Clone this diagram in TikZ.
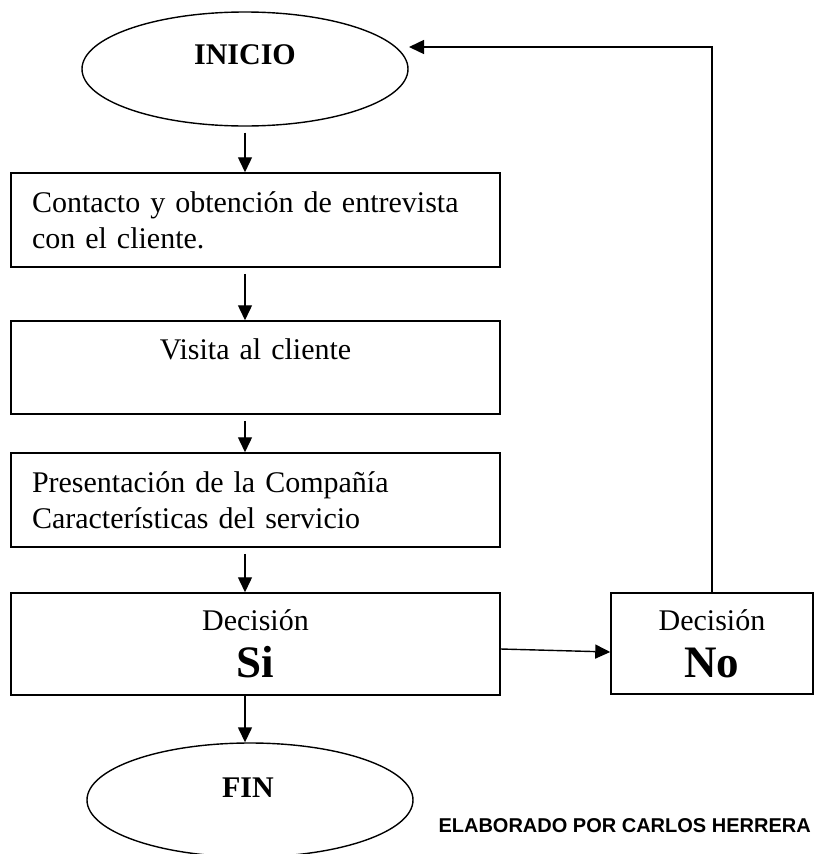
\documentclass[tikz,border=0pt]{standalone}
\usepackage{fontspec}
\setmainfont{Liberation Serif}
\newfontfamily\arialf{Liberation Sans}
\usetikzlibrary{shapes.geometric,arrows.meta}
\tikzset{
  every node/.style={font=\fontsize{30}{36}\selectfont},
  stepbox/.style={draw, line width=1.5pt, rectangle, inner ysep=0pt, inner xsep=21pt, text width=447pt},
  term/.style={draw, line width=1.4pt, ellipse, inner sep=0pt, minimum width=326pt, minimum height=114pt},
  termtext/.style={font=\fontsize{30}{36}\selectfont\bfseries},
  arr/.style={line width=1.4pt, -{Triangle[length=15pt,width=14pt]}}
}
\newcommand{\bigword}[1]{{\fontsize{45}{48}\selectfont\bfseries #1}}
\begin{document}
\begin{tikzpicture}[x=1pt,y=-1pt]
\useasboundingbox (0,0) rectangle (816,854);
\node[term] (inicio) at (245,69) {};
\node[termtext] (tinicio) at (245,55) {INICIO};
\node[stepbox, align=left, minimum height=94pt] (box1) at (255.5,220) {Contacto y obtención de entrevista\\con el cliente.};
\node[stepbox, align=center, minimum height=93pt] (box2) at (255.5,367.5) {Visita al cliente\\\mbox{}};
\node[stepbox, align=left, minimum height=94pt] (box3) at (255.5,500) {Presentación de la Compañía\\Características del servicio};
\node[stepbox, align=center, minimum height=102pt] (box4) at (255.5,644) {Decisión\\[11pt]\bigword{Si}};
\node[draw, line width=1.5pt, rectangle, inner sep=0pt, minimum width=202pt, minimum height=101pt, align=center] (no) at (712,643.5) {Decisión\\[11pt]\bigword{No}};
\node[term] (fin) at (250,800) {};
\node[termtext] (tfin) at (248,788) {FIN};
\node[anchor=west, font=\fontsize{20}{24}\selectfont\arialf\bfseries] (autor) at (435,826) {ELABORADO POR CARLOS HERRERA};
\coordinate (ret) at (409,47);
\draw[arr] ([yshift=-6pt]inicio.south) -- (inicio.south |- box1.north);
\draw[arr] ([yshift=-6pt]box1.south -| inicio.south) -- (inicio.south |- box2.north);
\draw[arr] ([yshift=-6pt]box2.south -| inicio.south) -- (inicio.south |- box3.north);
\draw[arr] ([yshift=-6pt]box3.south -| inicio.south) -- (inicio.south |- box4.north);
\draw[arr] (box4.south -| inicio.south) -- (inicio.south |- fin.north);
\draw[arr] ([yshift=-5pt]box4.east) -- ([yshift=-8.5pt]no.west);
\draw[arr] (no.north) |- (ret);
\end{tikzpicture}
\end{document}
